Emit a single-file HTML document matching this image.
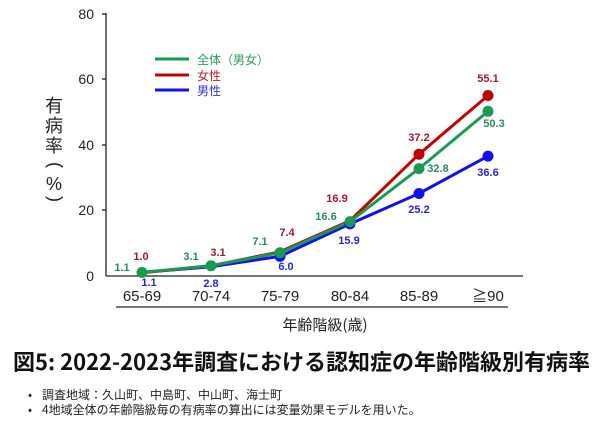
<!DOCTYPE html><html><head><meta charset="utf-8"><style>body{margin:0;background:#fff}svg{display:block}</style></head><body>
<svg width="600" height="424" viewBox="0 0 600 424" xmlns="http://www.w3.org/2000/svg" font-family="'Liberation Sans','Noto Sans CJK JP',sans-serif">
<g font-size="14" fill="#222" text-anchor="end">
<text x="94" y="19">80</text><text x="94" y="84">60</text><text x="94" y="150">40</text><text x="94" y="215">20</text><text x="94" y="281">0</text>
</g>
<g stroke="#222" stroke-width="1.3"><line x1="106" y1="13" x2="106" y2="276"/><line x1="106" y1="276" x2="523" y2="276"/>
<line x1="102" y1="14" x2="106" y2="14"/><line x1="102" y1="79" x2="106" y2="79"/><line x1="102" y1="145" x2="106" y2="145"/><line x1="102" y1="210" x2="106" y2="210"/><line x1="116" y1="307" x2="508" y2="307"/></g>
<g font-size="18" fill="#222" text-anchor="middle" font-family="'Noto Sans CJK JP',sans-serif"><text x="54" y="112">有</text><text x="54" y="132">病</text><text x="54" y="152">率</text>
<text transform="translate(54,165) rotate(90)" text-anchor="middle" dominant-baseline="middle" font-family="'Liberation Sans',sans-serif">(</text>
<text x="54" y="190" font-family="'Liberation Sans',sans-serif">%</text>
<text transform="translate(54,199) rotate(90)" text-anchor="middle" dominant-baseline="middle" font-family="'Liberation Sans',sans-serif">)</text></g>
<g font-size="15" fill="#222" text-anchor="middle"><text x="142" y="301">65-69</text><text x="211" y="301">70-74</text><text x="280" y="301">75-79</text><text x="350" y="301">80-84</text><text x="419" y="301">85-89</text><text x="488" y="301">≧90</text></g>
<text x="325" y="330" font-size="15" text-anchor="middle" fill="#222" font-family="'Noto Sans CJK JP',sans-serif">年齢階級(歳)</text>
<g stroke-width="3" fill="none"><line x1="155" y1="59" x2="189" y2="59" stroke="#1a9a50"/><line x1="155" y1="75" x2="189" y2="75" stroke="#c00000"/><line x1="155" y1="90" x2="189" y2="90" stroke="#1010f0"/></g>
<g font-size="12" font-family="'Noto Sans CJK JP',sans-serif"><text x="197" y="64" fill="#2a9a60">全体（男女）</text><text x="197" y="80" fill="#b02030">女性</text><text x="197" y="95" fill="#3030d0">男性</text></g>
<polyline points="142,272.4 211,266.8 280,256.3 350,223.9 419,193.5 488,156.1" fill="none" stroke="#1010f0" stroke-width="3"/>
<polyline points="142,272.7 211,265.8 280,251.8 350,220.7 419,154.2 488,95.5" fill="none" stroke="#c00000" stroke-width="3"/>
<polyline points="142,272.4 211,265.8 280,252.7 350,221.6 419,168.6 488,111.3" fill="none" stroke="#1a9a50" stroke-width="3"/>
<g fill="#1010f0"><circle cx="419" cy="193.5" r="5.5"/><circle cx="488" cy="156.1" r="5.5"/><circle cx="280" cy="256.3" r="5.5"/><circle cx="350" cy="223.9" r="5.5"/></g>
<g fill="#c00000"><circle cx="419" cy="154.2" r="5.5"/><circle cx="488" cy="95.5" r="5.5"/></g>
<g fill="#1a9a50"><circle cx="142" cy="272.4" r="5.5"/><circle cx="211" cy="265.8" r="5.5"/><circle cx="280" cy="252.7" r="5.5"/><circle cx="350" cy="221.6" r="5.5"/><circle cx="419" cy="168.6" r="5.5"/><circle cx="488" cy="111.3" r="5.5"/></g>
<g font-size="11" font-weight="bold" text-anchor="middle">
<g fill="#2a8a5a"><text x="122" y="271">1.1</text><text x="191" y="260">3.1</text><text x="260" y="245">7.1</text><text x="326" y="220">16.6</text><text x="438" y="172">32.8</text><text x="494" y="127">50.3</text></g>
<g fill="#a01830"><text x="141" y="260">1.0</text><text x="218" y="256">3.1</text><text x="287" y="236">7.4</text><text x="337" y="202">16.9</text><text x="419" y="141">37.2</text><text x="488" y="82">55.1</text></g>
<g fill="#2828c8"><text x="149" y="286">1.1</text><text x="211" y="287">2.8</text><text x="286" y="270">6.0</text><text x="349" y="244">15.9</text><text x="419" y="213">25.2</text><text x="488" y="176">36.6</text></g>
</g>
<text x="13" y="370" font-size="22" font-weight="bold" fill="#111" textLength="577" lengthAdjust="spacingAndGlyphs" font-family="'Noto Sans CJK JP',sans-serif">図5: 2022-2023年調査における認知症の年齢階級別有病率</text>
<g font-size="12" fill="#222" font-family="'Noto Sans CJK JP',sans-serif"><text x="28" y="399">•</text><text x="42" y="399">調査地域：久山町、中島町、中山町、海士町</text><text x="28" y="414">•</text><text x="42" y="414">4地域全体の年齢階級毎の有病率の算出には変量効果モデルを用いた。</text></g>
</svg></body></html>
